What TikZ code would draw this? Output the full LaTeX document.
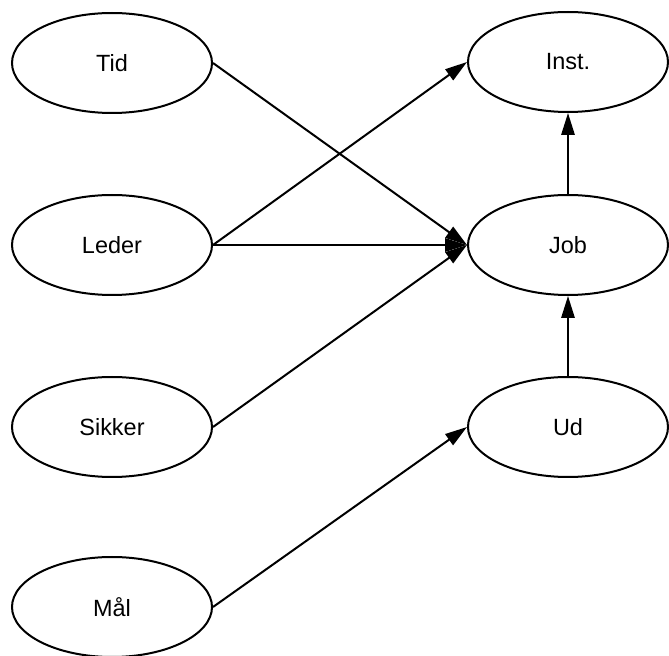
\documentclass[tikz,border=0pt]{standalone}
\usepackage{fontspec}
\setmainfont{Liberation Sans}
\usetikzlibrary{shapes.geometric,arrows.meta}

\tikzset{every picture/.style={line width=1.5pt}}
\tikzset{
  oval/.style={draw, ellipse, minimum width=150pt, minimum height=75pt, inner sep=0pt, font=\fontsize{17.6}{20}\selectfont},
  link/.style={-{Triangle[length=16.5pt,width=10pt]}}
}

\begin{document}
\begin{tikzpicture}[x=0.75pt,y=0.75pt,yscale=-1,xscale=1]
	\useasboundingbox (0,0) rectangle (669,656);

	%Shape: Ellipse, left column
	\node [oval] (tid) at (112,63) {Tid};
	\node [oval] (leder) at (112,245) {Leder};
	\node [oval] (sikker) at (112,427) {Sikker};
	\node [oval] (maal) at (112,607) {Mål};
	%Shape: Ellipse, right column
	\node [oval] (inst) at (568,62) {Inst.};
	\node [oval] (job) at (568,245) {Job};
	\node [oval] (ud) at (568,427) {Ud};

	%Straight Lines
	\draw [link] (tid.east) -- (job.west);
	\draw [link] (leder.east) -- (inst.west);
	\draw [link] (leder.east) -- (job.west);
	\draw [link] (sikker.east) -- (job.west);
	\draw [link] (maal.east) -- (ud.west);
	\draw [link] (ud.north) -- (job.south);
	\draw [link] (job.north) -- (inst.south);

\end{tikzpicture}
\end{document}
